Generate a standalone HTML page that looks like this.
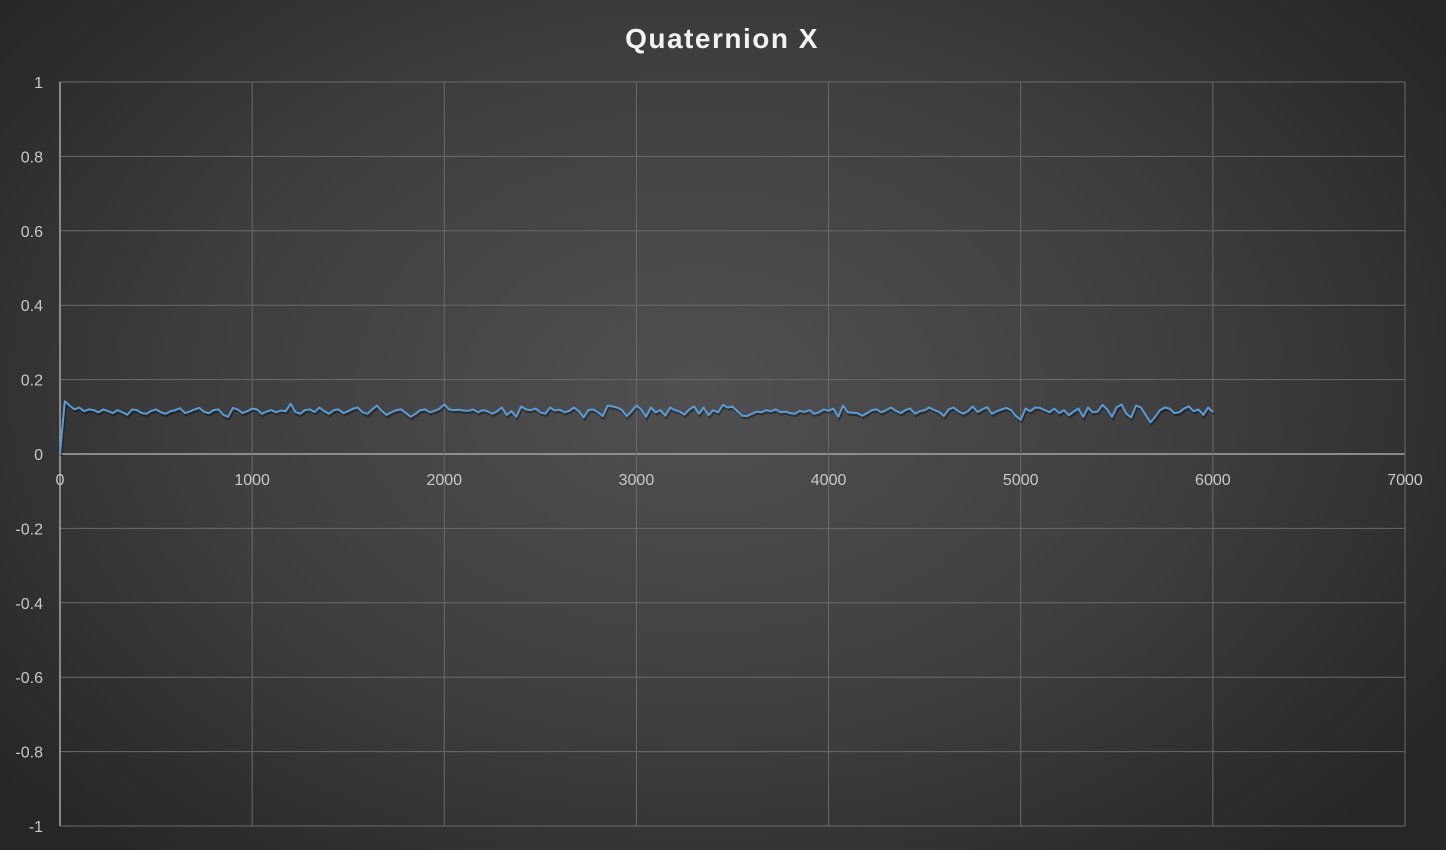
<!DOCTYPE html>
<html><head><meta charset="utf-8">
<style>
html,body{margin:0;padding:0}
body{width:1446px;height:850px;overflow:hidden;background:radial-gradient(ellipse 900px 620px at 700px 390px,#505050 0%,#3e3e3e 55%,#262626 100%);font-family:"Liberation Sans",sans-serif}
svg{position:absolute;left:0;top:0}
</style></head>
<body>
<svg id="chart" width="1446" height="850">
<text x="722" y="48" text-anchor="middle" font-family="Liberation Sans, sans-serif" font-weight="bold" font-size="28" fill="#f2f2f2" letter-spacing="1.5">Quaternion X</text>
</svg>
<script>
const xTicks=[0,1000,2000,3000,4000,5000,6000,7000];
const yTicks=[1,0.8,0.6,0.4,0.2,0,-0.2,-0.4,-0.6,-0.8,-1];
const yTickLabels=["1","0.8","0.6","0.4","0.2","0","-0.2","-0.4","-0.6","-0.8","-1"];
const sampleStep=25;
const seriesX=[0,.142,.13,.12,.125,.115,.12,.118,.112,.12,.115,.11,.118,.112,.105,.12,.118,.11,.108,.116,.12,.112,.108,.115,.118,.123,.11,.114,.12,.124,.113,.11,.118,.12,.105,.1,.124,.12,.11,.115,
.122,.12,.108,.114,.118,.112,.117,.115,.135,.113,.108,.118,.12,.113,.125,.115,.108,.118,.12,.11,.115,.122,.125,.112,.108,.12,.13,.115,.105,.112,.118,.12,.11,.1,.108,.118,.12,.112,.116,.122,
.133,.12,.118,.119,.117,.116,.12,.112,.118,.115,.108,.115,.125,.105,.115,.1,.128,.12,.118,.122,.112,.108,.125,.117,.119,.112,.116,.125,.115,.098,.118,.12,.112,.102,.13,.128,.125,.118,.102,.115,
.13,.12,.1,.125,.112,.118,.103,.125,.118,.114,.106,.12,.128,.108,.125,.104,.118,.112,.132,.125,.128,.115,.103,.102,.108,.114,.112,.118,.115,.12,.112,.114,.11,.108,.116,.113,.118,.108,.112,.12,
.116,.122,.1,.13,.112,.111,.11,.103,.11,.118,.12,.112,.118,.125,.116,.11,.118,.122,.108,.115,.118,.125,.118,.113,.102,.12,.125,.115,.108,.115,.128,.113,.12,.126,.108,.115,.12,.124,.118,.102,
.092,.122,.115,.125,.124,.118,.112,.122,.11,.118,.104,.114,.122,.1,.125,.112,.114,.132,.12,.1,.126,.133,.108,.098,.13,.125,.105,.085,.1,.118,.125,.122,.11,.112,.122,.128,.115,.12,.105,.125,
.112];
const svg=document.getElementById('chart');
const NS='http://www.w3.org/2000/svg';
const X0=60,X1=1405,Y0=826,Y1=82;
const xs=v=>X0+(v-0)/7000*(X1-X0);
const ys=v=>Y0-(v+1)/2*(Y0-Y1);
function mk(t,a){const e=document.createElementNS(NS,t);for(const k in a)e.setAttribute(k,a[k]);svg.appendChild(e);return e;}
yTicks.forEach((v,i)=>{
  const g=mk('line',{x1:X0,x2:X1,y1:ys(v),y2:ys(v),stroke:v===0?'#a6a6a6':'#6a6a6a','stroke-width':v===0?1.5:1});
  
  
  const t=mk('text',{x:43,y:ys(v)+6,'text-anchor':'end','font-size':16,fill:'#c8c8c8','font-family':'Liberation Sans, sans-serif'});
  t.textContent=yTickLabels[i];
  
  
});
xTicks.forEach(v=>{
  const g=mk('line',{x1:xs(v),x2:xs(v),y1:Y1,y2:Y0,stroke:v===0?'#a6a6a6':'#6a6a6a','stroke-width':v===0?1.5:1});
  
  
  const t=mk('text',{x:xs(v),y:485,'text-anchor':'middle','font-size':16,fill:'#c8c8c8','font-family':'Liberation Sans, sans-serif'});
  t.textContent=String(v);
  
  
});
const pts=seriesX.map((v,i)=>xs(i*sampleStep).toFixed(1)+','+ys(v).toFixed(1)).join(' ');
const sh=mk('polyline',{points:pts,fill:'none',stroke:'rgba(0,0,0,0.35)','stroke-width':2.5,transform:'translate(1,2)'});


const pl=mk('polyline',{points:pts,fill:'none',stroke:'#5b9bd5','stroke-width':2,'stroke-linejoin':'round'});


</script>
</body></html>
